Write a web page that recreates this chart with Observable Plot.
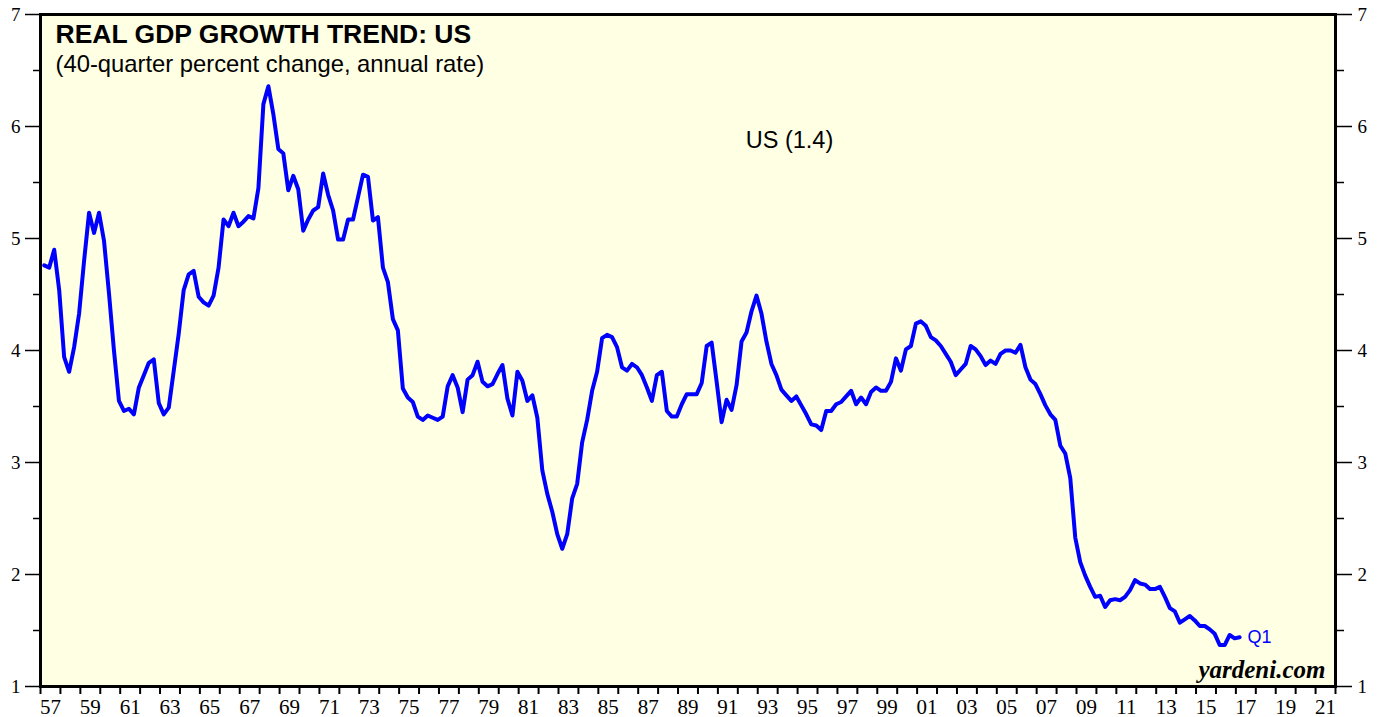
<!DOCTYPE html>
<html>
<head>
<meta charset="utf-8">
<script src="https://cdn.jsdelivr.net/npm/d3@7"></script>
<script src="https://cdn.jsdelivr.net/npm/@observablehq/plot@0.6"></script>
<style>
  html, body { margin: 0; padding: 0; background: #ffffff; }
  #chart svg { display: block; }
</style>
</head>
<body>
<div id="chart"></div>
<script>
// ---- Data (quarterly, starting 1957 Q1, ending 2017 Q1) ----
const firstYear = 1957;
const gdpGrowth = [
  4.76, 4.74, 4.90, 4.54, 3.94, 3.81, 4.03, 4.33, 4.80, 5.23, 5.05, 5.23, 4.98, 4.51, 4.00, 3.55,
  3.46, 3.48, 3.43, 3.67, 3.78, 3.89, 3.92, 3.53, 3.43, 3.49, 3.82, 4.15, 4.54, 4.68, 4.71, 4.48,
  4.43, 4.40, 4.49, 4.74, 5.17, 5.11, 5.23, 5.11, 5.15, 5.20, 5.18, 5.45, 6.20, 6.36, 6.11, 5.80,
  5.76, 5.43, 5.56, 5.44, 5.07, 5.17, 5.25, 5.28, 5.58, 5.39, 5.25, 4.99, 4.99, 5.17, 5.17, 5.37,
  5.57, 5.55, 5.16, 5.19, 4.74, 4.61, 4.28, 4.18, 3.66, 3.58, 3.54, 3.41, 3.38, 3.42, 3.40, 3.38,
  3.41, 3.68, 3.78, 3.67, 3.45, 3.74, 3.78, 3.90, 3.72, 3.68, 3.70, 3.79, 3.87, 3.57, 3.42, 3.81,
  3.73, 3.55, 3.60, 3.40, 2.93, 2.72, 2.56, 2.36, 2.23, 2.36, 2.68, 2.81, 3.18, 3.38, 3.64, 3.81,
  4.11, 4.14, 4.12, 4.03, 3.85, 3.82, 3.88, 3.85, 3.78, 3.67, 3.55, 3.78, 3.81, 3.46, 3.41, 3.41,
  3.52, 3.61, 3.61, 3.61, 3.71, 4.04, 4.07, 3.72, 3.36, 3.56, 3.47, 3.69, 4.08, 4.16, 4.35, 4.49,
  4.33, 4.08, 3.88, 3.78, 3.65, 3.60, 3.55, 3.59, 3.51, 3.43, 3.34, 3.33, 3.29, 3.46, 3.46, 3.52,
  3.54, 3.59, 3.64, 3.52, 3.58, 3.52, 3.63, 3.67, 3.64, 3.64, 3.72, 3.93, 3.82, 4.01, 4.04, 4.24,
  4.26, 4.22, 4.12, 4.09, 4.04, 3.97, 3.90, 3.78, 3.83, 3.88, 4.04, 4.01, 3.95, 3.87, 3.91, 3.88,
  3.97, 4.00, 4.00, 3.98, 4.05, 3.85, 3.74, 3.70, 3.61, 3.51, 3.43, 3.38, 3.15, 3.08, 2.86, 2.33,
  2.11, 1.99, 1.89, 1.80, 1.81, 1.71, 1.77, 1.78, 1.77, 1.80, 1.86, 1.95, 1.92, 1.91, 1.87, 1.87,
  1.89, 1.80, 1.70, 1.67, 1.57, 1.60, 1.63, 1.59, 1.54, 1.54, 1.51, 1.47, 1.37, 1.37, 1.46, 1.43,
  1.44
];
const lastLabel = "Q1";

// ---- Ticks / labels ----
const xTickYears = d3.range(1957, 2023);          // a tick at every year boundary
const xLabelYears = d3.range(1957, 2022, 2);      // labels every other year
const yMajorTicks = [1, 2, 3, 4, 5, 6, 7];
const yMinorTicks = [1.5, 2.5, 3.5, 4.5, 5.5, 6.5];

// ---- Texts ----
const titleText = "REAL GDP GROWTH TREND: US";
const subtitleText = "(40-quarter percent change, annual rate)";
const seriesLabel = "US (1.4)";
const sourceText = "yardeni.com";

// ---- Build table ----
const data = gdpGrowth.map((v, i) => ({date: firstYear + (i + 0.75) / 4, value: v}));

const serif = "'Liberation Serif', 'Times New Roman', Times, serif";
const sans = "'Liberation Sans', Arial, Helvetica, sans-serif";

const chart = Plot.plot({
  width: 1380,
  height: 717,
  marginLeft: 40,
  marginRight: 45,
  marginTop: 14,
  marginBottom: 31,
  style: {fontFamily: serif, background: "#ffffff", overflow: "visible"},
  x: {domain: [1957, 2022], axis: null},
  y: {domain: [1, 7], axis: null},
  marks: [
    Plot.frame({fill: "#FFFFE4", stroke: "none"}),
    // left axis
    Plot.axisY({anchor: "left", ticks: yMajorTicks, tickSize: 15, tickPadding: 5, tickFormat: d3.format("d"),
      fontSize: 19, fontFamily: serif, label: null, strokeWidth: 1.5}),
    Plot.axisY({anchor: "left", ticks: yMinorTicks, tickSize: 7, tickFormat: () => "", label: null, strokeWidth: 1.5}),
    // right axis
    Plot.axisY({anchor: "right", ticks: yMajorTicks, tickSize: 16, tickPadding: 6, tickFormat: d3.format("d"),
      fontSize: 19, fontFamily: serif, label: null, strokeWidth: 1.5}),
    Plot.axisY({anchor: "right", ticks: yMinorTicks, tickSize: 8, tickFormat: () => "", label: null, strokeWidth: 1.5}),
    // bottom axis: tick marks at year boundaries
    Plot.axisX({anchor: "bottom", ticks: xTickYears, tickSize: 8, tickFormat: () => "", label: null, strokeWidth: 2}),
    // bottom axis: labels centred on mid-year
    Plot.axisX({anchor: "bottom", ticks: xLabelYears.map(y => y + 0.5), tickSize: 0, tickPadding: 13,
      tickFormat: d => String(Math.floor(d) % 100).padStart(2, "0"), fontSize: 21, fontFamily: serif, label: null}),
    // the series
    Plot.line(data, {x: "date", y: "value", stroke: "#0000FF", strokeWidth: 4, strokeLinejoin: "round", strokeLinecap: "round"}),
    Plot.text(data.slice(-1), {x: "date", y: "value", text: () => lastLabel, dx: 8, textAnchor: "start",
      lineAnchor: "middle", fill: "#0000FF", fontSize: 18, fontFamily: sans}),
    // texts inside frame
    Plot.text([titleText], {frameAnchor: "top-left", dx: 15, dy: 28, lineAnchor: "bottom", textAnchor: "start",
      fontSize: 26.5, fontWeight: "bold", fontFamily: sans, fill: "black"}),
    Plot.text([subtitleText], {frameAnchor: "top-left", dx: 15, dy: 57, lineAnchor: "bottom", textAnchor: "start",
      fontSize: 23.8, fontFamily: sans, fill: "black"}),
    Plot.text([seriesLabel], {frameAnchor: "top-left", dx: 749, dy: 126, lineAnchor: "middle", textAnchor: "middle",
      fontSize: 23.5, fontFamily: sans, fill: "black"}),
    Plot.text([sourceText], {frameAnchor: "bottom-right", dx: -10, dy: -9, lineAnchor: "bottom", textAnchor: "end",
      fontSize: 25, fontWeight: "bold", fontStyle: "italic", fontFamily: serif, fill: "black"}),
    Plot.frame({stroke: "black", strokeWidth: 3})
  ]
});

document.getElementById("chart").appendChild(chart);
</script>
</body>
</html>
